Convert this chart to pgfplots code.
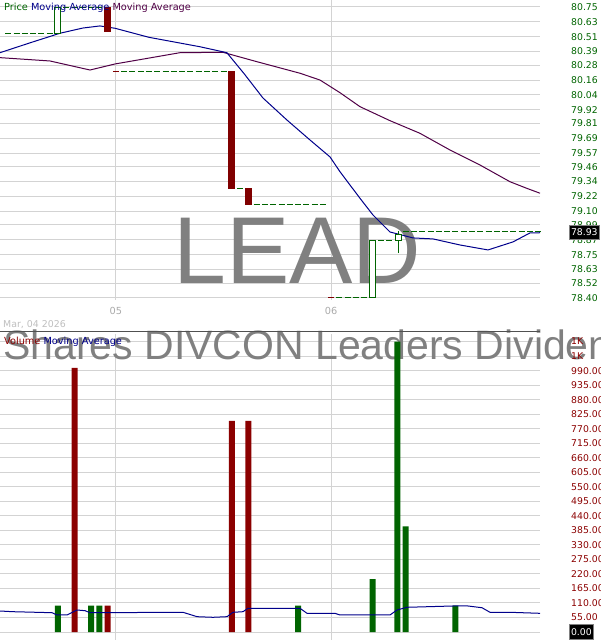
\documentclass[border=0pt]{standalone}
\usepackage{fontspec}
\setmainfont{DejaVu Sans}
\newfontfamily\wmfont{Liberation Sans}
\usepackage{pgfplots}
\pgfplotsset{compat=1.18}

\definecolor{pgreen}{RGB}{0,100,0}
\definecolor{pred}{RGB}{128,0,0}
\definecolor{vred}{RGB}{139,0,0}
\definecolor{mablue}{RGB}{0,0,139}
\definecolor{mapurple}{RGB}{80,0,70}
\definecolor{gridgray}{RGB}{211,211,211}
\definecolor{wmgray}{RGB}{128,128,128}
\definecolor{lblgray}{RGB}{170,170,170}
\definecolor{dategray}{RGB}{190,190,190}
\definecolor{sepgray}{RGB}{80,80,80}

\begin{document}
\begin{tikzpicture}
\useasboundingbox (0pt,0pt) rectangle (600pt,640pt);
\clip (0pt,0pt) rectangle (600pt,640pt);
\pgfplotsset{
  panel/.style={
    scale only axis, width=540pt, xmin=0, xmax=65.22,
    clip=false, axis line style={draw=none}, major tick length=0pt,
    grid=major, grid style={gridgray, line width=1pt},
    tick label style={font=\fontsize{9.3}{11}\selectfont, inner sep=0pt},
    yticklabel pos=right,
    yticklabel style={anchor=west, xshift=31pt},
    xtick={14,40},
  },
  candle/.style={line width=1pt, line join=miter, line cap=rect},
  flat/.style={pgreen, line width=1pt, dash pattern=on 6pt off 2.28pt},
}
% price panel
\begin{axis}[panel, at={(0pt,340pt)}, anchor=south west, height=300pt,
  ymin=78.3838, ymax=80.8065,
  ytick={80.75,80.63,80.51,80.39,80.28,80.16,80.04,79.92,79.81,79.69,79.57,79.46,79.34,79.22,79.10,78.99,78.87,78.75,78.63,78.52,78.40},
  yticklabels={80.75,80.63,80.51,80.39,80.28,80.16,80.04,79.92,79.81,79.69,79.57,79.46,79.34,79.22,79.10,78.99,78.87,78.75,78.63,78.52,78.40},
  yticklabel style={pgreen},
  xticklabels={05,06},
  xticklabel style={lblgray, anchor=north, yshift=-7pt, font=\fontsize{9.75}{11}\selectfont},
]
\node[wmgray, font=\wmfont\fontsize{95}{95}\selectfont, anchor=base, inner sep=0pt]
  at (axis cs:35.93,78.521) {LEAD};
% moving averages
\addplot[mapurple, line width=1pt] coordinates {
  (0,80.341) (6.04,80.314) (10.87,80.241) (13.9,80.290) (21.74,80.381)
  (26.93,80.384) (31.04,80.308) (36.23,80.215) (38.65,80.160) (41.06,80.058)
  (43.48,79.945) (47.1,79.832) (50.72,79.730) (54.35,79.595) (57.97,79.474)
  (61.59,79.339) (63.61,79.286) (65.22,79.246)
};
\addplot[mablue, line width=1pt] coordinates {
  (0,80.381) (3.6,80.46) (7.25,80.538) (10,80.58) (12.08,80.597) (13.9,80.578)
  (18,80.505) (24.15,80.429) (27.4,80.381) (29.5,80.21) (31.76,80.015)
  (34.66,79.837) (37.44,79.676) (39.86,79.539) (41.06,79.42) (43.48,79.205)
  (45.05,79.070) (47.1,78.933) (49.88,78.885) (52.3,78.877) (55.56,78.828)
  (58.94,78.788) (61.96,78.853) (64.0,78.925) (65.22,78.927)
};
% days without a move
\addplot[flat] coordinates {(0.638,80.532) (6.362,80.532)};
\addplot[flat] coordinates {(7.638,80.742) (12.362,80.742)};
\addplot[pred, line width=1pt] coordinates {(13.638,80.233) (14.362,80.233)};
\addplot[flat] coordinates {(14.638,80.233) (27.362,80.233)};
\addplot[flat] coordinates {(28.638,79.288) (29.362,79.288)};
\addplot[flat] coordinates {(30.638,79.151) (39.362,79.151)};
\addplot[pred, line width=1pt] coordinates {(39.638,78.400) (40.362,78.400)};
\addplot[flat] coordinates {(40.638,78.400) (44.362,78.400)};
\addplot[flat] coordinates {(45.638,78.868) (47.362,78.868)};
\addplot[flat] coordinates {(48.638,78.933) (65.362,78.933)};
% candles
\addplot[candle, pgreen, fill=white] coordinates {
  (6.638,80.532) (7.362,80.532) (7.362,80.742) (6.638,80.742) (6.638,80.532)};
\addplot[candle, pred, fill=pred] coordinates {
  (12.638,80.742) (13.362,80.742) (13.362,80.556) (12.638,80.556) (12.638,80.742)};
\addplot[candle, pred, fill=pred] coordinates {
  (27.638,80.233) (28.362,80.233) (28.362,79.288) (27.638,79.288) (27.638,80.233)};
\addplot[candle, pred, fill=pred] coordinates {
  (29.638,79.288) (30.362,79.288) (30.362,79.151) (29.638,79.151) (29.638,79.288)};
\addplot[candle, pgreen, fill=white] coordinates {
  (44.638,78.400) (45.362,78.400) (45.362,78.868) (44.638,78.868) (44.638,78.400)};
\addplot[pgreen, line width=1pt] coordinates {(48.1,78.763) (48.1,78.943)};
\addplot[candle, pgreen, fill=white] coordinates {
  (47.74,78.868) (48.46,78.868) (48.46,78.909) (47.74,78.909) (47.74,78.868)};
\end{axis}

% volume panel
\begin{axis}[panel, at={(0pt,0pt)}, anchor=south west, height=306pt,
  ymin=-30.30, ymax=1128.79,
  ytick={0,55,...,1100},
  yticklabels={{},55.00,110.00,165.00,220.00,275.00,330.00,385.00,440.00,495.00,550.00,605.00,660.00,715.00,770.00,825.00,880.00,935.00,990.00,{},{}},
  yticklabel style={vred},
  xticklabel=\empty,
]
\node[wmgray, font=\wmfont\fontsize{41}{41}\selectfont, anchor=base west, inner sep=0pt]
  at (axis cs:0.36,1030.3) {Shares DIVCON Leaders Dividend ETF};
\addplot[ybar, bar width=6pt, bar shift=0pt, fill=pgreen, draw=none] coordinates {
  (7,100) (11,100) (12,100) (36,100) (45,200) (48,1100) (49,400) (55,100)};
\addplot[ybar, bar width=6pt, bar shift=0pt, fill=vred, draw=none] coordinates {
  (9,1000) (13,100) (28,800) (30,800)};
\addplot[mablue, line width=1pt] coordinates {
  (0,79.5) (1.57,76.9) (6.28,73.1) (6.88,64.4) (8.09,64.4) (9.3,83.3) (10.27,80.7)
  (10.87,73.1) (22.1,74.6) (23.8,58.0) (25.72,55.7) (27.42,58.0) (28.14,74.6)
  (29.35,76.9) (29.95,89.8) (36.23,89.8) (37.08,70.8) (40.46,70.8) (41.06,64.4)
  (47.1,64.4) (47.95,83.3) (49.15,93.6) (54.71,98.5) (56.52,98.5) (58.21,92.0)
  (59.18,74.6) (61.59,74.6) (65.22,70.8)
};
\end{axis}

\draw[sepgray, line width=1pt] (0pt,308pt) -- (540pt,308pt);
\node[vred, font=\fontsize{9.3}{11}\selectfont, anchor=west, inner sep=0pt] at (571pt,283.9pt) {1K};
\node[vred, font=\fontsize{9.3}{11}\selectfont, anchor=west, inner sep=0pt] at (571pt,298.4pt) {1K};
\node[fill=black, draw=gray, line width=1pt, text=white, inner xsep=1.5pt, inner ysep=3.5pt,
  anchor=west, font=\fontsize{9.3}{11}\selectfont] at (569pt,407.6pt) {78.93};
\node[fill=black, draw=gray, line width=1pt, text=white, inner xsep=1.5pt, inner ysep=3.5pt,
  anchor=west, font=\fontsize{9.3}{11}\selectfont] at (569pt,8pt) {0.00};
\node[anchor=base west, inner sep=0pt, font=\fontsize{9.75}{11}\selectfont] at (4pt,629.5pt)
  {\textcolor{pgreen}{Price} \textcolor{mablue}{Moving Average} \textcolor{mapurple}{Moving Average}};
\node[anchor=base west, inner sep=0pt, dategray, font=\fontsize{9.4}{11}\selectfont] at (3pt,312.7pt)
  {Mar, 04 2026};
\node[anchor=base west, inner sep=0pt, font=\fontsize{9.75}{11}\selectfont] at (4pt,295.5pt)
  {\textcolor{vred}{Volume} \textcolor{mablue}{Moving Average}};
\end{tikzpicture}
\end{document}
